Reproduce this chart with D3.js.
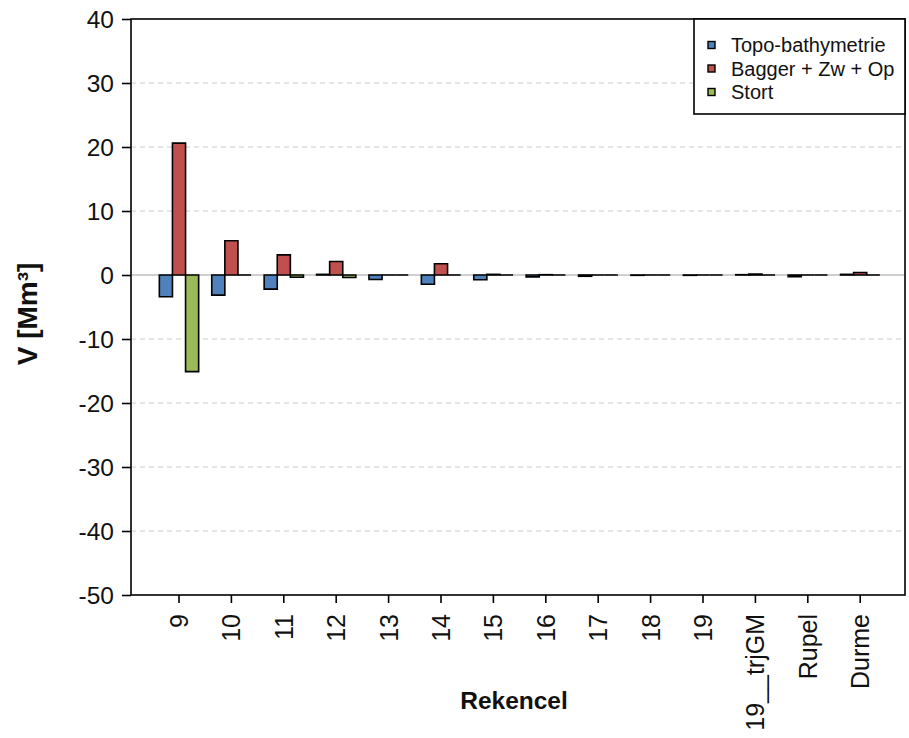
<!DOCTYPE html>
<html>
<head>
<meta charset="utf-8">
<script src="https://cdn.jsdelivr.net/npm/d3@7"></script>
<style>
  html, body { margin: 0; padding: 0; background: #fff; }
  svg { display: block; font-family: "Liberation Sans", Arial, sans-serif; }
</style>
</head>
<body>
<svg id="chart" width="909" height="738"></svg>
<script>
// Volume change per computation cell (Mm³)
const categories = ["9", "10", "11", "12", "13", "14", "15", "16", "17", "18", "19", "19__trjGM", "Rupel", "Durme"];
const topoBathymetrie = [-3.4, -3.15, -2.2, 0.1, -0.7, -1.45, -0.75, -0.3, -0.2, -0.05, -0.05, 0.05, -0.25, 0.1];
const baggerZwOp = [20.6, 5.35, 3.15, 2.1, 0.0, 1.75, 0.1, 0.05, 0.0, 0.0, 0.0, 0.15, 0.0, 0.4];
const stort = [-15.1, 0.0, -0.35, -0.4, 0.0, 0.0, 0.0, 0.0, 0.0, 0.0, 0.0, 0.0, 0.0, 0.0];
const seriesNames = ["Topo-bathymetrie", "Bagger + Zw + Op", "Stort"];
const seriesColors = ["#4F81BD", "#C0504D", "#9BBB59"];
const yTicks = [40, 30, 20, 10, 0, -10, -20, -30, -40, -50];

const series = [topoBathymetrie, baggerZwOp, stort];

const svg = d3.select("#chart");
const plot = { left: 131, right: 905, top: 19, bottom: 595 };

const y = d3.scaleLinear().domain([-50, 40]).range([plot.bottom, plot.top]);

// group bands: three bars per group, one bar-width gap between groups
const step = 52.4;
const x = d3.scaleBand()
  .domain(categories)
  .range([152.8, 152.8 + step * categories.length])
  .paddingInner(0.25)
  .paddingOuter(0.125);
const xInner = d3.scaleBand()
  .domain(d3.range(series.length))
  .range([0, x.bandwidth()]);

// grid lines
const grid = svg.append("g");
yTicks.filter(t => t !== 40 && t !== -50).forEach(t => {
  grid.append("line")
    .attr("x1", plot.left).attr("x2", plot.right)
    .attr("y1", y(t)).attr("y2", y(t))
    .attr("stroke", t === 0 ? "#cfcfcf" : "#cccccc")
    .attr("stroke-width", t === 0 ? 2 : 1)
    .attr("stroke-dasharray", t === 0 ? null : "5,4");
});

// bars
const bars = svg.append("g");
categories.forEach((c, i) => {
  series.forEach((vals, s) => {
    const x0 = x(c) + xInner(s);
    const x1 = x0 + xInner.bandwidth();
    const y0 = y(0);
    const y1 = y(vals[i]);
    bars.append("path")
      .attr("d", `M${x0},${y0}H${x1}V${y1}H${x0}Z`)
      .attr("fill", seriesColors[s])
      .attr("stroke", "#000")
      .attr("stroke-width", 1.6)
      .attr("stroke-linejoin", "miter");
  });
});

// plot frame
svg.append("rect")
  .attr("x", plot.left).attr("y", plot.top)
  .attr("width", plot.right - plot.left).attr("height", plot.bottom - plot.top)
  .attr("fill", "none").attr("stroke", "#000").attr("stroke-width", 1.6);

// y axis
const yAxis = d3.axisLeft(y).tickValues(yTicks).tickSize(9).tickPadding(8).tickFormat(d => String(d));
const gy = svg.append("g").attr("transform", `translate(${plot.left},0)`).call(yAxis);
gy.select(".domain").remove();
gy.selectAll(".tick line").attr("stroke", "#000").attr("stroke-width", 1.6);
gy.selectAll(".tick text")
  .attr("fill", "#111")
  .style("font-size", "24.5px")
  .attr("dy", "0.36em");

// x axis
const xAxis = d3.axisBottom(x).tickSize(8).tickPadding(4);
const gx = svg.append("g").attr("transform", `translate(0,${plot.bottom})`).call(xAxis);
gx.select(".domain").remove();
gx.selectAll(".tick line").attr("stroke", "#000").attr("stroke-width", 1.6);
gx.selectAll(".tick text")
  .attr("fill", "#111")
  .style("font-size", "25px")
  .attr("text-anchor", "end")
  .attr("transform", "rotate(-90)")
  .attr("x", -19)
  .attr("y", 0)
  .attr("dy", "0.36em");

// axis titles
svg.append("text")
  .attr("x", 514).attr("y", 709)
  .attr("text-anchor", "middle")
  .style("font-size", "24.5px").style("font-weight", "bold")
  .attr("fill", "#111")
  .text("Rekencel");

svg.append("text")
  .attr("transform", "translate(37,314) rotate(-90)")
  .attr("text-anchor", "middle")
  .style("font-size", "28px").style("font-weight", "bold")
  .attr("fill", "#111")
  .text("V [Mm³]");

// legend
const legend = svg.append("g");
legend.append("rect")
  .attr("x", 694).attr("y", plot.top)
  .attr("width", plot.right - 694).attr("height", 95)
  .attr("fill", "#fff").attr("stroke", "#000").attr("stroke-width", 1.6);
seriesNames.forEach((name, s) => {
  const cy = 45 + s * 23.5;
  legend.append("rect")
    .attr("x", 708).attr("y", cy - 3.5)
    .attr("width", 7).attr("height", 7)
    .attr("fill", seriesColors[s]).attr("stroke", "#000").attr("stroke-width", 1.4);
  legend.append("text")
    .attr("x", 731).attr("y", cy)
    .attr("dy", "0.36em")
    .style("font-size", "20px")
    .attr("fill", "#111")
    .text(name);
});
</script>
</body>
</html>
